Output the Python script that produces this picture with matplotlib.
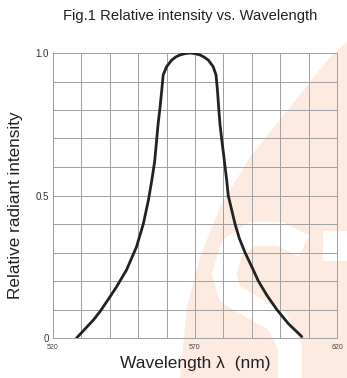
import matplotlib
matplotlib.use("Agg")
import matplotlib.pyplot as plt
from matplotlib.patches import Polygon, Rectangle
from matplotlib.ticker import MultipleLocator

plt.rcParams["font.family"] = ["Liberation Sans", "DejaVu Sans"]

# spectrum
wavelength = [528.3, 534.2, 536.5, 540.1, 542.4, 545.9, 549.4, 551.8, 553.6,
              554.8, 555.8, 556.5, 557.0, 557.7, 558.3, 558.8, 560.0, 561.8,
              563.2, 564.7, 566.5, 568.2, 570.0, 571.8, 573.3, 574.7, 576.4,
              577.4, 577.9, 578.4, 578.8, 579.4, 580.0, 580.6, 581.2,
              581.7, 582.9, 584.1, 585.6, 587.6, 590.0, 592.3, 595.3, 598.8,
              602.9, 607.6]
intensity = [0.0, 0.063, 0.092, 0.145, 0.18, 0.239, 0.32, 0.40, 0.484,
             0.554, 0.62, 0.695, 0.75, 0.81, 0.87, 0.923, 0.952, 0.975,
             0.986, 0.993, 0.998, 1.0, 0.998, 0.993, 0.985, 0.975, 0.952,
             0.923, 0.87, 0.80, 0.75, 0.697, 0.65, 0.60, 0.55,
             0.50, 0.45, 0.40, 0.35, 0.30, 0.25, 0.20, 0.15, 0.10,
             0.05, 0.005]

x_ticks = [520, 570, 620]
y_ticks = [0, 0.5, 1.0]
y_ticklabels = ["0", "0.5", "1.0"]

W, H = 347, 378
fig = plt.figure(figsize=(W / 100, H / 100), dpi=100)

# faint logo watermark behind the chart
bg = fig.add_axes([0, 0, 1, 1], zorder=-1)
bg.set_xlim(0, W)
bg.set_ylim(H, 0)
bg.axis("off")
edge = [(347, 42), (330, 57), (290, 107), (250, 157), (220, 207), (200, 257),
        (187, 307), (180, 378), (347, 378)]
bg.add_patch(Polygon(edge, closed=True, color="#fdebe1", lw=0))
bg.add_patch(Rectangle((323, 231), 30, 30, color="white", lw=0))
s_x = [304, 280, 252, 232, 224, 230, 250, 276, 290, 290]
s_y = [246, 234, 234, 248, 274, 294, 306, 320, 346, 380]
bg.plot(s_x, s_y, color="white", lw=17, solid_capstyle="butt",
        solid_joinstyle="round")

ax = fig.add_axes([53 / W, 1 - 338 / H, 284 / W, 285 / H])
ax.patch.set_alpha(0)
ax.plot(wavelength, intensity, color="#222222", lw=2.0,
        solid_joinstyle="round", solid_capstyle="round", zorder=3)

ax.set_xlim(520, 620)
ax.set_ylim(0, 1.0)
ax.xaxis.set_minor_locator(MultipleLocator(10))
ax.yaxis.set_minor_locator(MultipleLocator(0.1))
ax.set_xticks(x_ticks)
ax.set_yticks(y_ticks)
ax.set_yticklabels(y_ticklabels)
ax.grid(which="both", color="#a0a0a0", lw=0.7)
ax.tick_params(which="both", length=0)
ax.tick_params(axis="x", labelsize=5, pad=4, colors="#444444")
ax.tick_params(axis="y", labelsize=7, pad=3, colors="#333333")
for sp in ax.spines.values():
    sp.set_color("#a0a0a0")
    sp.set_linewidth(0.7)

ax.set_xlabel("Wavelength λ  (nm)", fontsize=12.5, color="#222222")
ax.xaxis.set_label_coords(0.5, -0.064)
ax.set_ylabel("Relative radiant intensity", fontsize=12.3, color="#222222")
ax.yaxis.set_label_coords(-0.105, 0.465)
fig.text(190 / W, 1 - 16 / H, "Fig.1 Relative intensity vs. Wavelength",
         ha="center", va="center", fontsize=10.6, color="#222222")

fig.savefig("out.png", dpi=100)
